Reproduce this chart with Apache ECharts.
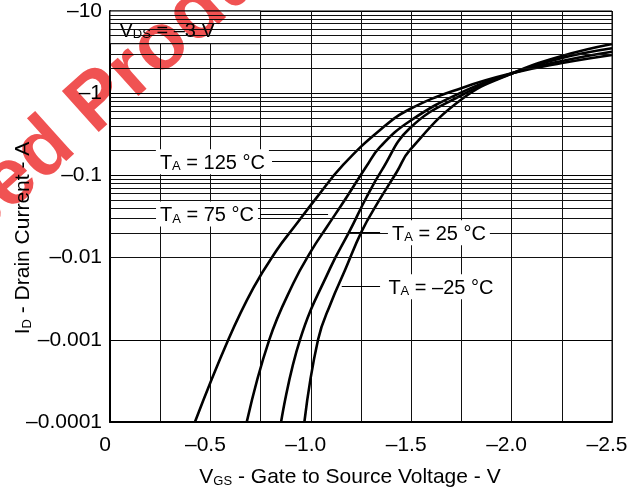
<!DOCTYPE html>
<html><head><meta charset="utf-8">
<script src="https://cdn.jsdelivr.net/npm/echarts@6/dist/echarts.min.js"></script>
<style>html,body{margin:0;padding:0;background:#fff}#c{width:643px;height:493px}
#c canvas:not(:first-child){mix-blend-mode:multiply}</style>
</head><body><div id="c"></div>
<script>
// Gate-source voltage (V, negative) and drain current magnitude |ID| (A)
const vgsM25 = [-0.968,-1.036,-1.101,-1.170,-1.254,-1.335,-1.428,-1.494,-1.753,-2.007,-2.251,-2.5];
const idM25  = [0.0001,0.001,0.00285,0.0070,0.0210,0.0472,0.110,0.204,0.850,1.76,2.84,3.97];
const vgs25  = [-0.852,-0.946,-1.096,-1.195,-1.278,-1.353,-1.494,-1.753,-2.007,-2.251,-2.5];
const id25   = [0.0001,0.001,0.0074,0.0214,0.0546,0.115,0.377,0.951,1.76,2.68,3.52];
const vgs75  = [-0.681,-0.793,-0.913,-1.005,-1.079,-1.179,-1.278,-1.345,-1.494,-1.753,-2.007,-2.251,-2.5];
const id75   = [0.0001,0.001,0.00487,0.0124,0.0234,0.0546,0.130,0.222,0.459,1.03,1.76,2.47,3.20];
const vgs125 = [-0.423,-0.589,-0.714,-0.830,-0.913,-1.029,-1.162,-1.345,-1.494,-1.753,-2.007,-2.251,-2.5];
const id125  = [0.0001,0.001,0.00427,0.0123,0.0229,0.0537,0.135,0.357,0.642,1.16,1.76,2.33,2.92];

const seriesNames = ['TA = 125 °C','TA = 75 °C','TA = 25 °C','TA = –25 °C'];
const xTickValues = [0,-0.5,-1.0,-1.5,-2.0,-2.5];
const xTickLabels = ['0','–0.5','–1.0','–1.5','–2.0','–2.5'];
const yTickLabels = ['–0.0001','–0.001','–0.01','–0.1','–1','–10'];

// annotation anchors (data coordinates): label centre, arrow start, arrow tip
const notes = [
  {t:'125 °C', at:[-0.51,0.147], from:[-0.807,0.147], to:[-1.145,0.147]},
  {t:'75 °C',  at:[-0.483,0.0339], from:[-0.747,0.0339], to:[-1.086,0.0339]},
  {t:'25 °C',  at:[-1.638,0.0201], from:[-1.345,0.0201], to:[-1.195,0.0201]},
  {t:'–25 °C', at:[-1.648,0.00443], from:[-1.345,0.00443], to:[-1.154,0.00443]}
];

const FF = "'Liberation Sans', Arial, Helvetica, sans-serif";
const minorY = [];
for (let e = -4; e <= 0; e++) for (let k = 2; k <= 9; k++) minorY.push(+(k*Math.pow(10,e)).toPrecision(3));

const richT = {
  t:{fontSize:20, fontFamily:FF, color:'#000', verticalAlign:'bottom', lineHeight:22},
  s:{fontSize:13, fontFamily:FF, color:'#000', verticalAlign:'bottom', lineHeight:17}
};
const richAxis = {
  v:{fontSize:21, fontFamily:FF, fill:'#000', color:'#000', verticalAlign:'bottom', lineHeight:23},
  s:{fontSize:13, fontFamily:FF, fill:'#000', color:'#000', verticalAlign:'bottom', lineHeight:17}
};

function curve(v, i, name){
  return {type:'line', name:name, data:v.map((x,k)=>[x,i[k]]), smooth:0.45, symbol:'none',
    lineStyle:{color:'#000', width:2.6}, z:3, silent:true};
}

const chart = echarts.init(document.getElementById('c'), null, {renderer:'canvas'});
chart.setOption({
  backgroundColor:'#fff',
  animation:false,
  grid:{left:110, top:11, right:31, bottom:71, show:true, borderColor:'#000', borderWidth:1, outerBoundsMode:'none'},
  xAxis:{type:'value', min:-2.5, max:0, interval:0.25, inverse:true,
    axisLine:{show:true, onZero:false, lineStyle:{color:'#000', width:2}},
    axisTick:{show:false},
    splitLine:{show:true, lineStyle:{color:'#111', width:1}},
    axisLabel:{color:'#000', fontSize:21, fontFamily:FF, margin:13, padding:[0,10,0,0],
      formatter:function(v){
        for (let k=0;k<xTickValues.length;k++) if (Math.abs(v-xTickValues[k])<1e-6) return xTickLabels[k];
        return '';
      }}
  },
  yAxis:{type:'log', logBase:10, min:0.0001, max:10,
    axisLine:{show:true, lineStyle:{color:'#000', width:2}},
    axisTick:{show:false},
    splitLine:{show:true, lineStyle:{color:'#000', width:1}},
    axisLabel:{color:'#000', fontSize:21, fontFamily:FF, margin:8,
      formatter:function(v){ return yTickLabels[Math.round(Math.log10(v))+4]; }}
  },
  graphic:[
    {type:'text', x:22, y:238, rotation:Math.PI/2, z:50,
      style:{text:'{v|I}{s|D}{v| - Drain Current - A}', align:'center', verticalAlign:'middle',
        textAlign:'center', textVerticalAlign:'middle', fill:'#000', rich:richAxis}},
    {type:'text', x:350, y:476, z:50,
      style:{text:'{v|V}{s|GS}{v| - Gate to Source Voltage - V}', align:'center', verticalAlign:'middle',
        textAlign:'center', textVerticalAlign:'middle', fill:'#000', rich:richAxis}},
    {type:'text', x:-201, y:372, rotation:0.733, zlevel:1, z:200, silent:true,
      style:{text:'Replaced Product', font:'bold 80px '+FF, fill:'#f05252',
        align:'left', verticalAlign:'middle', textAlign:'left', textVerticalAlign:'middle'}}
  ],
  series:[
    {type:'line', data:[], z:1, silent:true,
      markLine:{silent:true, symbol:'none', animation:false, label:{show:false},
        lineStyle:{color:'#111', width:1, type:'solid'},
        data:minorY.map(v=>({yAxis:v}))}},
    {type:'line', data:[], z:2, silent:true,
      markArea:{silent:true, itemStyle:{color:'#fff', borderColor:'#000', borderWidth:1},
        label:{show:true, position:'insideLeft', distance:0, padding:[6,0,0,10],
          formatter:'{t|V}{s|DS}{t| = –3 V}', rich:richT},
        data:[[{coord:[0,10]},{coord:[-0.75,4]}]]}},
    curve(vgs125, id125, seriesNames[0]),
    curve(vgs75, id75, seriesNames[1]),
    curve(vgs25, id25, seriesNames[2]),
    curve(vgsM25, idM25, seriesNames[3]),
    {type:'line', data:[], z:5, silent:true,
      markLine:{silent:true, symbol:['none','arrow'], symbolSize:[0,11], animation:false, label:{show:false},
        lineStyle:{color:'#000', width:1, type:'solid'}, emphasis:{disabled:true},
        data:notes.map(n=>[{coord:n.from},{coord:n.to}])},
      markPoint:{silent:true, symbol:'rect', symbolSize:1, itemStyle:{color:'rgba(0,0,0,0)'},
        label:{show:true, position:'inside', backgroundColor:'#fff', padding:[2,4,1,4], rich:richT},
        data:notes.map(n=>({coord:n.at, label:{formatter:'{t|T}{s|A}{t| = '+n.t+'}'}}))}}
  ]
});
</script></body></html>
